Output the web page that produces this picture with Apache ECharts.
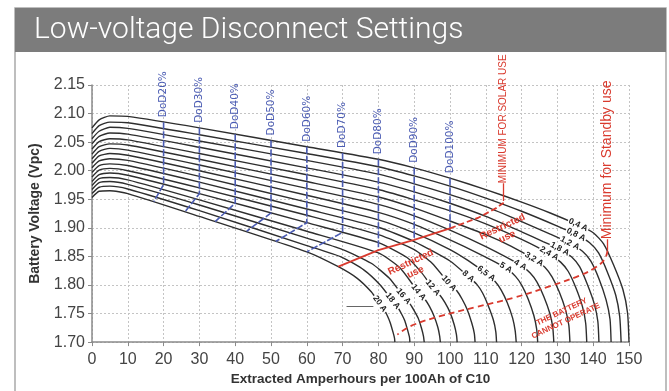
<!DOCTYPE html>
<html>
<head>
<meta charset="utf-8">
<title>Low-voltage Disconnect Settings</title>
<script src="https://cdn.jsdelivr.net/npm/echarts@6/dist/echarts.min.js"></script>
<style>
  html, body { margin: 0; padding: 0; background: #fff; }
  #chart { width: 669px; height: 391px; }
</style>
</head>
<body>
<div id="chart"></div>
<script>
const TITLE = 'Low-voltage Disconnect Settings';
const X_NAME = 'Extracted Amperhours per 100Ah of C10';
const Y_NAME = 'Battery Voltage (Vpc)';

// discharge currents, top curve first
const currents = ['0,4 A', '0,8 A', '1,2 A', '1,8 A', '2,4 A', '3,2 A', '4 A', '5 A',
  '6,5 A', '8 A', '10 A', '12 A', '14 A', '16 A', '18 A', '20 A'];

// [Ah extracted, volts per cell]
const curve04 = [[0, 2.075], [2, 2.089], [5, 2.096], [10, 2.095], [30, 2.075], [60, 2.042], [80, 2.020], [90, 2.005], [100, 1.987], [110, 1.967], [120, 1.945], [128, 1.926], [135.8, 1.905], [140.1, 1.891], [142.9, 1.872], [145.7, 1.835], [148.3, 1.792], [149.6, 1.751], [150, 1.70]];
const curve08 = [[0, 2.065], [2, 2.079], [5, 2.085], [10, 2.084], [30, 2.063], [60, 2.030], [80, 2.007], [90, 1.991], [100, 1.973], [110, 1.952], [120, 1.929], [130, 1.903], [135.2, 1.888], [139.0, 1.874], [141.5, 1.856], [144.0, 1.822], [146.3, 1.782], [147.4, 1.745], [147.8, 1.70]];
const curve12 = [[0, 2.056], [2, 2.069], [5, 2.076], [10, 2.074], [30, 2.052], [60, 2.018], [80, 1.994], [90, 1.977], [100, 1.958], [110, 1.937], [120, 1.911], [128, 1.889], [133.5, 1.873], [137.0, 1.859], [139.3, 1.842], [141.6, 1.811], [143.6, 1.774], [144.7, 1.740], [145, 1.70]];
const curve18 = [[0, 2.047], [2, 2.060], [5, 2.066], [10, 2.064], [30, 2.041], [60, 2.005], [80, 1.980], [90, 1.963], [100, 1.943], [110, 1.920], [120, 1.893], [126, 1.876], [130.7, 1.863], [134.0, 1.849], [136.2, 1.832], [138.3, 1.802], [140.3, 1.767], [141.3, 1.736], [141.6, 1.70]];
const curve24 = [[0, 2.038], [2, 2.051], [5, 2.056], [10, 2.054], [30, 2.030], [60, 1.993], [80, 1.967], [90, 1.949], [100, 1.930], [110, 1.907], [120, 1.880], [127.7, 1.855], [130.9, 1.840], [133.0, 1.824], [135.1, 1.796], [137.0, 1.762], [137.9, 1.733], [138.2, 1.70]];
const curve32 = [[0, 2.029], [2, 2.042], [5, 2.047], [10, 2.045], [30, 2.020], [60, 1.981], [80, 1.954], [90, 1.935], [100, 1.912], [110, 1.888], [117, 1.868], [123.5, 1.845], [126.5, 1.831], [128.5, 1.814], [130.5, 1.788], [132.3, 1.756], [133.2, 1.729], [133.5, 1.70]];
const curve40 = [[0, 2.021], [2, 2.034], [5, 2.039], [10, 2.036], [30, 2.010], [60, 1.969], [80, 1.941], [90, 1.921], [100, 1.896], [110, 1.867], [119.6, 1.835], [122.4, 1.821], [124.3, 1.805], [126.2, 1.780], [127.9, 1.750], [128.7, 1.726], [129, 1.70]];
const curve50 = [[0, 2.013], [2, 2.026], [5, 2.030], [10, 2.027], [30, 2.000], [60, 1.957], [80, 1.927], [90, 1.906], [100, 1.879], [108, 1.855], [115.6, 1.830], [118.3, 1.815], [120.1, 1.799], [121.8, 1.776], [123.4, 1.747], [124.2, 1.723], [124.5, 1.70]];
const curve65 = [[0, 2.005], [2, 2.017], [5, 2.021], [10, 2.018], [30, 1.990], [60, 1.945], [80, 1.914], [90, 1.891], [100, 1.862], [105, 1.843], [110.1, 1.820], [112.6, 1.806], [114.3, 1.791], [116.0, 1.769], [117.5, 1.742], [118.2, 1.720], [118.5, 1.70]];
const curve80 = [[0, 1.997], [2, 2.009], [5, 2.012], [10, 2.009], [30, 1.980], [60, 1.933], [80, 1.901], [90, 1.876], [100, 1.842], [105.1, 1.815], [107.5, 1.801], [109.1, 1.786], [110.6, 1.765], [112.1, 1.739], [112.8, 1.718], [113, 1.70]];
const curve100 = [[0, 1.989], [2, 2.001], [5, 2.004], [10, 2.000], [30, 1.970], [60, 1.922], [80, 1.888], [90, 1.862], [95, 1.838], [99.7, 1.803], [101.9, 1.790], [103.4, 1.775], [104.8, 1.757], [106.1, 1.733], [106.8, 1.715], [107, 1.70]];
const curve120 = [[0, 1.981], [2, 1.993], [5, 1.996], [10, 1.992], [30, 1.960], [60, 1.909], [80, 1.874], [88, 1.848], [92, 1.822], [95.2, 1.795], [97.2, 1.782], [98.6, 1.769], [100.0, 1.752], [101.2, 1.730], [101.8, 1.713], [102, 1.70]];
const curve140 = [[0, 1.974], [2, 1.986], [5, 1.988], [10, 1.984], [30, 1.949], [60, 1.894], [80, 1.856], [86, 1.830], [91.2, 1.787], [93.0, 1.775], [94.3, 1.762], [95.5, 1.746], [96.6, 1.726], [97.1, 1.711], [97.3, 1.70]];
const curve160 = [[0, 1.967], [2, 1.979], [5, 1.981], [10, 1.976], [30, 1.940], [60, 1.882], [70, 1.862], [78, 1.838], [83, 1.812], [87.0, 1.780], [88.7, 1.768], [89.9, 1.756], [91.1, 1.742], [92.1, 1.723], [92.6, 1.710], [92.8, 1.70]];
const curve180 = [[0, 1.960], [2, 1.971], [5, 1.973], [10, 1.968], [30, 1.930], [60, 1.869], [70, 1.848], [76, 1.826], [80.5, 1.800], [84.0, 1.772], [85.4, 1.761], [86.4, 1.750], [87.4, 1.737], [88.2, 1.720], [88.7, 1.708], [88.8, 1.70]];
const curve200 = [[0, 1.953], [2, 1.964], [5, 1.965], [10, 1.960], [30, 1.920], [60, 1.858], [68.8, 1.832], [74, 1.812], [78, 1.788], [80.4, 1.767], [81.7, 1.756], [82.5, 1.746], [83.3, 1.734], [84.1, 1.717], [84.5, 1.707], [84.6, 1.70]];

const curves = [curve04, curve08, curve12, curve18, curve24, curve32, curve40, curve50,
  curve65, curve80, curve100, curve120, curve140, curve160, curve180, curve200];

// where each current label sits on its curve
const curveLabelAt = [[135.8, 1.905], [135.2, 1.888], [133.5, 1.873], [130.7, 1.863], [127.7, 1.855],
  [123.5, 1.845], [119.6, 1.835], [115.6, 1.830], [110.1, 1.820], [105.1, 1.815], [99.7, 1.803],
  [95.2, 1.795], [91.2, 1.787], [87.0, 1.780], [84.0, 1.772], [80.4, 1.767]];

// depth of discharge markers: top of line, bottom of vertical part, foot on the 20 A curve
const dodNames = ['DoD20%', 'DoD30%', 'DoD40%', 'DoD50%', 'DoD60%', 'DoD70%', 'DoD80%', 'DoD90%', 'DoD100%'];
const dodLines = [
  [[20, 2.085], [20, 1.976], [17.3, 1.946]],
  [[30, 2.075], [30, 1.960], [26, 1.928]],
  [[40, 2.064], [40, 1.943], [34.4, 1.911]],
  [[50, 2.053], [50, 1.926], [43.2, 1.894]],
  [[60, 2.042], [60, 1.909], [51.3, 1.876]],
  [[70, 2.031], [70, 1.892], [60, 1.858]],
  [[80, 2.020], [80, 1.861]],
  [[90, 2.005], [90, 1.879]],
  [[100, 1.987], [100, 1.899]]
];

const restrictedSolid = [[68.8, 1.832], [80, 1.861], [90, 1.879], [100, 1.899]];
const restrictedDashed = [[100, 1.899], [108, 1.918], [113, 1.935], [115, 1.944]];
const cannotOperate = [[144.0, 1.860], [143.2, 1.845], [140.5, 1.830], [136, 1.816], [128, 1.798],
  [118, 1.778], [107, 1.761], [97, 1.745], [89, 1.728], [85.3, 1.713]];

const solarArrow = [[115, 1.978], [115, 1.947]];
const standbyArrow = [[143.8, 1.880], [143.8, 1.861]];
const pointerArrow = [[71.1, 1.763], [78.6, 1.763]];

const restrictedUpper = [115.3, 1.893];
const restrictedLower = [89.7, 1.831];
const cannotOperateAt = [131.8, 1.745];

const RED = '#d93a2e';
const BLUE = '#4b5cb3';
const AXIS_FONT = '"Liberation Sans", Arial, sans-serif';

const chart = echarts.init(document.getElementById('chart'));

const series = [];
curves.forEach((c, i) => {
  series.push({
    name: currents[i],
    type: 'line',
    data: c,
    symbol: 'none',
    smooth: 0.2,
    silent: true,
    z: 2,
    lineStyle: { color: '#2e2e2e', width: 1.4 }
  });
});
dodLines.forEach((d, i) => {
  series.push({
    name: dodNames[i],
    type: 'line',
    data: d,
    symbol: 'none',
    silent: true,
    z: 3,
    lineStyle: { color: BLUE, width: 1.6, type: [7, 2] }
  });
});
series.push({
  type: 'line', data: restrictedSolid, symbol: 'none', silent: true, z: 4,
  lineStyle: { color: RED, width: 1.8 }
});
series.push({
  type: 'line', data: restrictedDashed, symbol: 'none', silent: true, z: 4,
  lineStyle: { color: RED, width: 1.8, type: [6, 3] }
});
series.push({
  type: 'line', data: cannotOperate, symbol: 'none', smooth: 0.4, silent: true, z: 4,
  lineStyle: { color: RED, width: 1.8, type: [6, 4] }
});
series.push({
  type: 'line', data: [], silent: true,
  markLine: {
    silent: true, symbol: ['none', 'arrow'], symbolSize: [0, 7],
    label: { show: false },
    lineStyle: { color: RED, width: 1.3, type: 'solid' },
    data: [
      [{ coord: solarArrow[0] }, { coord: solarArrow[1] }],
      [{ coord: standbyArrow[0] }, { coord: standbyArrow[1] }]
    ]
  }
});
series.push({
  type: 'line', data: [], silent: true,
  markLine: {
    silent: true, symbol: ['none', 'arrow'], symbolSize: [0, 6],
    label: { show: false },
    lineStyle: { color: '#666', width: 1, type: 'solid' },
    data: [[{ coord: pointerArrow[0] }, { coord: pointerArrow[1] }]]
  }
});

const option = {
  animation: false,
  grid: { left: 92, right: 40, top: 85, bottom: 37 },
  xAxis: {
    type: 'value', min: 0, max: 150, interval: 10,
    name: X_NAME, nameLocation: 'middle', nameGap: 28,
    nameTextStyle: { fontFamily: AXIS_FONT, fontSize: 13.5, fontWeight: 'bold', color: '#333' },
    axisLine: { lineStyle: { color: '#8a8a8a', width: 1.5 } },
    axisTick: { show: true, length: 4, lineStyle: { color: '#8a8a8a' } },
    axisLabel: { fontFamily: AXIS_FONT, fontSize: 16, color: '#444', margin: 9 },
    splitLine: { show: true, lineStyle: { color: '#c4c4c4', type: [2, 2] } }
  },
  yAxis: {
    type: 'value', min: 1.70, max: 2.15, interval: 0.05,
    name: Y_NAME, nameLocation: 'middle', nameGap: 50,
    nameTextStyle: { fontFamily: AXIS_FONT, fontSize: 14, fontWeight: 'bold', color: '#333' },
    axisLine: { show: true, lineStyle: { color: '#8a8a8a', width: 1.5 } },
    axisTick: { show: true, length: 4, lineStyle: { color: '#8a8a8a' } },
    axisLabel: { fontFamily: AXIS_FONT, fontSize: 16, color: '#444', margin: 7,
      formatter: (v) => v.toFixed(2) },
    splitLine: { show: true, lineStyle: { color: '#c4c4c4', type: [2, 2] } }
  },
  series: series
};

chart.setOption(option);

function toPx(p) {
  return chart.convertToPixel({ gridIndex: 0 }, p);
}

function textEl(p, text, font, fill, rotation, extra) {
  return {
    type: 'text', x: p[0], y: p[1], rotation: rotation, z: 50, silent: true,
    style: Object.assign({
      text: text, font: font, fill: fill,
      textAlign: 'center', textVerticalAlign: 'middle',
      align: 'center', verticalAlign: 'middle'
    }, extra || {})
  };
}

function buildGraphics() {
  const g = [];
  g.push({ type: 'rect', z: 0, silent: true,
    shape: { x: 15, y: 8, width: 651, height: 400 },
    style: { fill: 'none', stroke: '#a9a9a9', lineWidth: 1.5 } });
  g.push({ type: 'rect', z: 1, silent: true,
    shape: { x: 15, y: 8, width: 651, height: 44 },
    style: { fill: '#7c7c7c' } });
  g.push({ type: 'text', x: 34, y: 30, z: 2, silent: true,
    style: { text: TITLE, fill: '#fff', font: '300 30px Roboto, "Liberation Sans", sans-serif',
      textAlign: 'left', align: 'left', textVerticalAlign: 'middle', verticalAlign: 'middle' } });

  // current labels along each curve, turned to the local slope
  curves.forEach((c, i) => {
    const at = curveLabelAt[i];
    let k = c.findIndex((p) => p[0] === at[0]);
    if (k < 1) k = 1;
    const a = toPx(c[k - 1]);
    const b = toPx(c[Math.min(k + 1, c.length - 1)]);
    const ang = Math.atan2(b[1] - a[1], b[0] - a[0]);
    g.push(textEl(toPx(at), currents[i], 'bold 8.5px "Liberation Sans", Arial, sans-serif', '#222', -ang,
      { backgroundColor: '#fff', padding: [0, 1] }));
  });

  // DoD labels above the vertical markers
  dodLines.forEach((d, i) => {
    const p = toPx(d[0]);
    g.push(textEl([p[0], p[1] - 5], dodNames[i], '10.5px "DejaVu Sans", sans-serif', BLUE, Math.PI / 2,
      { textAlign: 'left', align: 'left' }));
  });

  const s = toPx(solarArrow[0]);
  g.push(textEl([s[0], s[1]], 'MINIMUM FOR SOLAR USE', '10px "Liberation Sans", Arial, sans-serif', RED, Math.PI / 2,
    { textAlign: 'left', align: 'left' }));
  const sb = toPx(standbyArrow[0]);
  g.push(textEl([sb[0], sb[1]], 'Minimum for Standby use', '14px "Liberation Sans", Arial, sans-serif', RED, Math.PI / 2,
    { textAlign: 'left', align: 'left' }));

  const tilt = 25 * Math.PI / 180;
  g.push(textEl(toPx(restrictedUpper), 'Restricted\nuse', 'bold 10px "Liberation Sans", Arial, sans-serif', RED, tilt,
    { lineHeight: 11 }));
  g.push(textEl(toPx(restrictedLower), 'Restricted\nuse', 'bold 10px "Liberation Sans", Arial, sans-serif', RED, tilt,
    { lineHeight: 11 }));
  g.push(textEl(toPx(cannotOperateAt), 'THE BATTERY\nCANNOT OPERATE', 'bold 8px "Liberation Sans", Arial, sans-serif', RED, tilt,
    { lineHeight: 10 }));
  return g;
}

chart.setOption({ graphic: buildGraphics() });
</script>
</body>
</html>
